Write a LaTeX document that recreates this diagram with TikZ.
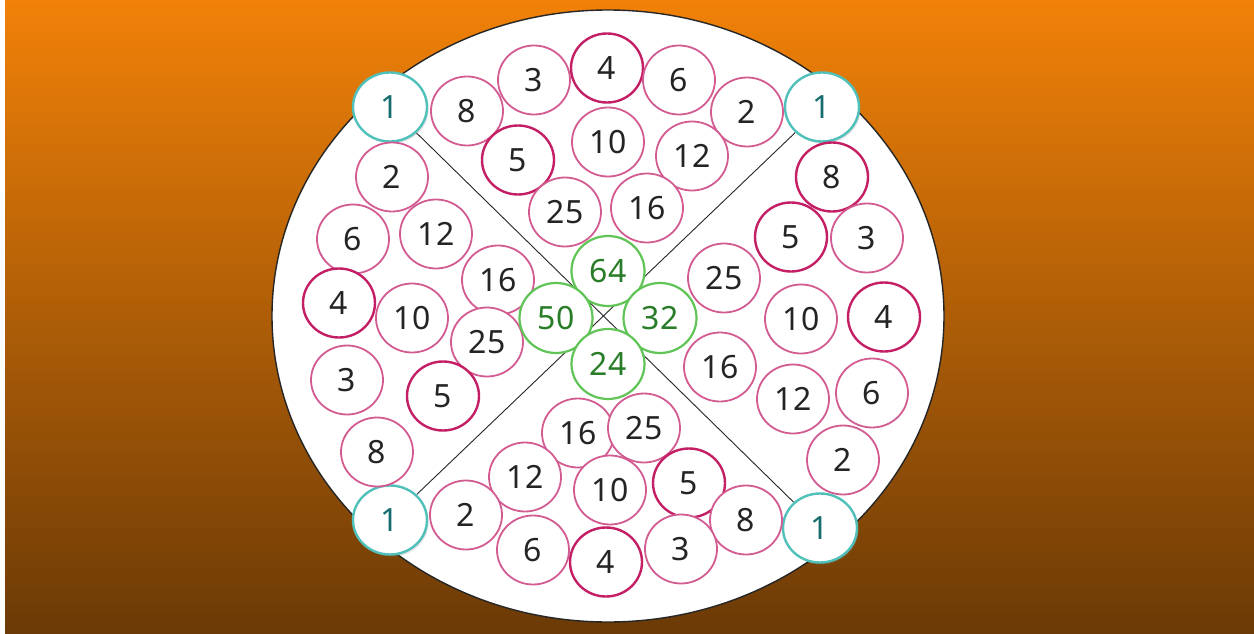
\documentclass[tikz,border=0pt]{standalone}
\usepackage{fontspec}
\setmainfont{Noto Sans}
\usetikzlibrary{shapes.geometric,shadows}
\definecolor{bgtop}{RGB}{241,129,8}
\definecolor{bgbot}{RGB}{107,58,6}
\definecolor{pinklt}{RGB}{210,92,146}
\definecolor{pinkdk}{RGB}{196,30,100}
\definecolor{tealbd}{RGB}{80,192,186}
\definecolor{tealtx}{RGB}{22,108,110}
\definecolor{greenbd}{RGB}{96,196,86}
\definecolor{greentx}{RGB}{42,125,40}
\definecolor{numtx}{RGB}{36,36,36}
\pgfdeclarelayer{back}
\pgfdeclarelayer{mid}
\pgfsetlayers{back,mid,main}
\tikzset{
  num/.style={ellipse, inner sep=0pt, fill=white, font=\fontsize{32}{38}\selectfont},
  pk/.style={num, draw=pinklt, line width=1.8pt, minimum width=72pt, minimum height=69pt, text=numtx},
  pkd/.style={num, draw=pinkdk, line width=2.4pt, minimum width=72pt, minimum height=69pt, text=numtx},
  gr/.style={num, draw=greenbd, line width=2.2pt, minimum width=73pt, minimum height=70pt, text=greentx},
  tl/.style={num, draw=tealbd, line width=2.4pt, minimum width=74pt, minimum height=69pt, text=tealtx,
     drop shadow={shadow xshift=1.5pt, shadow yshift=-2pt, opacity=0.25}},
  diag/.style={draw=black!85, line width=0.9pt},
}
\begin{document}
\begin{tikzpicture}[x=1pt,y=-1pt]
\useasboundingbox (0,0) rectangle (1254,634);
\begin{pgfonlayer}{back}
\fill[white] (0,0) rectangle (1254,634);
\shade[top color=bgtop, bottom color=bgbot] (5,1) rectangle (1254,634);
\draw[fill=white, draw=black!85, line width=1.4pt] (608,316) ellipse [x radius=336, y radius=306];
\end{pgfonlayer}

% teal corner nodes
\node[tl] (tl1) at (390,107) {1};
\node[tl] (tr1) at (822,107) {1};
\node[tl] (bl1) at (390,520) {1};
\node[tl] (br1) at (820,528) {1};

% top quadrant
\node[pk]  (t3)  at (534,80)  {3};
\node[pkd] (t4)  at (607,68)  {4};
\node[pk]  (t6)  at (679,80)  {6};
\node[pk]  (t8)  at (467,111) {8};
\node[pk]  (t2)  at (747,112) {2};
\node[pkd] (t5)  at (518,160) {5};
\node[pk]  (t10) at (608,142) {10};
\node[pk]  (t12) at (692,156) {12};
\node[pk]  (t25) at (565,212) {25};
\node[pk]  (t16) at (647,208) {16};

% right quadrant
\node[pkd] (r8)  at (832,177) {8};
\node[pkd] (r5)  at (791,237) {5};
\node[pk]  (r3)  at (867,238) {3};
\node[pk]  (r25) at (724,278) {25};
\node[pk]  (r10) at (801,319) {10};
\node[pkd] (r4)  at (884,317) {4};
\node[pk]  (r16) at (720,367) {16};
\node[pk]  (r12) at (793,399) {12};
\node[pk]  (r6)  at (872,393) {6};
\node[pk]  (r2)  at (843,460) {2};

% bottom quadrant
\node[pk]  (b16) at (578,433) {16};
\node[pk]  (b25) at (644,428) {25};
\node[pk]  (b12) at (525,477) {12};
\node[pk]  (b10) at (610,490) {10};
\node[pkd] (b5)  at (689,483) {5};
\node[pk]  (b2)  at (466,515) {2};
\node[pk]  (b8)  at (746,520) {8};
\node[pk]  (b6)  at (533,550) {6};
\node[pkd] (b4)  at (606,562) {4};
\node[pk]  (b3)  at (681,549) {3};

% left quadrant
\node[pk]  (l2)  at (392,177) {2};
\node[pk]  (l6)  at (353,239) {6};
\node[pk]  (l12) at (436,234) {12};
\node[pk]  (l16) at (498,280) {16};
\node[pkd] (l4)  at (339,303) {4};
\node[pk]  (l10) at (412,318) {10};
\node[pk]  (l25) at (487,342) {25};
\node[pk]  (l3)  at (347,380) {3};
\node[pkd] (l5)  at (443,396) {5};
\node[pk]  (l8)  at (377,452) {8};

% centre
\node[gr] (c64) at (608,271) {64};
\node[gr] (c50) at (556,318) {50};
\node[gr] (c32) at (660,318) {32};
\node[gr] (c24) at (608,364) {24};

\begin{pgfonlayer}{mid}
\draw[diag] (tl1) -- (br1);
\draw[diag] (tr1) -- (bl1);
\end{pgfonlayer}
\end{tikzpicture}
\end{document}
